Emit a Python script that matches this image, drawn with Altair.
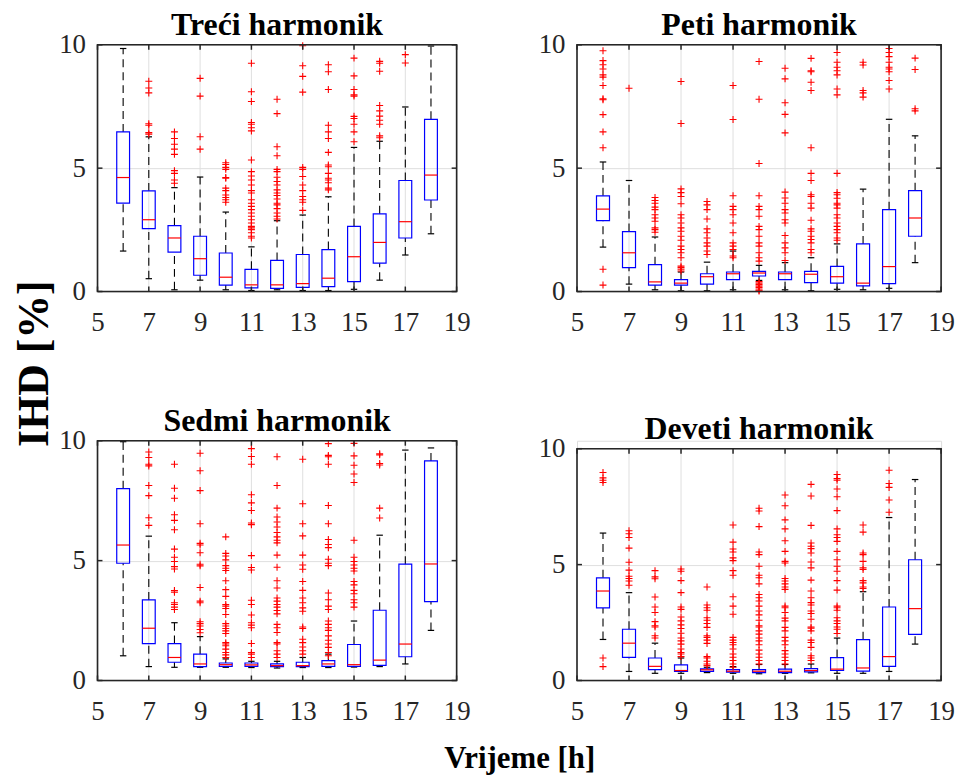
import altair as alt
import pandas as pd

HOURS = list(range(6, 19))
X_TICKS = [5, 7, 9, 11, 13, 15, 17, 19]
Y_TICKS = [0, 5, 10]
X_DOMAIN = [5, 19]
Y_DOMAIN = [0, 10]

TITLES = ["Treći harmonik", "Peti harmonik", "Sedmi harmonik", "Deveti harmonik"]
X_LABEL = "Vrijeme [h]"
Y_LABEL = "IHD [%]"

# ---- Treći harmonik ----
H3_Q1 = [3.58, 2.55, 1.60, 0.66, 0.26, 0.15, 0.13, 0.17, 0.20, 0.40, 1.15, 2.17, 3.71]
H3_MED = [4.62, 2.91, 2.17, 1.33, 0.58, 0.27, 0.27, 0.32, 0.54, 1.41, 1.99, 2.83, 4.72]
H3_Q3 = [6.47, 4.08, 2.67, 2.24, 1.56, 0.90, 1.26, 1.50, 1.70, 2.64, 3.15, 4.50, 6.98]
H3_LO = [1.64, 0.52, 0.07, 0.46, 0.07, 0.04, 0.07, 0.04, 0.04, 0.09, 0.46, 1.48, 2.34]
H3_HI = [9.85, 6.27, 4.21, 4.64, 3.22, 1.81, 2.87, 3.10, 3.84, 5.84, 6.09, 7.48, 9.95]
H3_OUT = [
    [],
    [8.52, 8.25, 8.05, 6.80, 6.74, 6.44, 6.38],
    [6.47, 6.20, 5.97, 5.77, 5.56, 4.90, 4.79, 4.52, 4.39],
    [8.64, 7.92, 6.27, 5.77],
    [5.22, 5.15, 5.03, 4.95, 4.62, 4.59, 4.19, 4.09, 3.91, 3.81, 3.72, 3.62],
    [9.25, 8.10, 7.70, 6.85, 6.78, 6.64, 6.51, 5.33, 4.86, 4.68, 4.52, 4.32, 4.09, 3.99,
     3.72, 3.58, 3.45, 3.32, 3.18, 3.05, 2.91, 2.78, 2.64, 2.58, 2.51, 2.38, 2.24, 2.17],
    [7.79, 7.21, 5.87, 5.50, 4.95, 4.86, 4.63, 4.46, 4.32, 4.12, 3.99, 3.89, 3.75, 3.58,
     3.51, 3.36, 3.18, 3.05, 2.94],
    [9.96, 9.15, 8.72, 8.08, 5.03, 4.95, 4.66, 4.32, 4.09, 3.85, 3.72, 3.62, 3.29],
    [9.19, 8.91, 8.19, 6.74, 6.47, 6.20, 5.64, 5.13, 5.06, 4.79, 4.59, 4.52, 4.41, 4.19, 4.12],
    [9.46, 8.74, 8.19, 7.97, 7.92, 7.10, 7.01, 6.78, 6.47, 6.07],
    [9.33, 9.25, 8.93, 7.54, 7.32, 7.11, 6.94, 6.78, 6.31, 6.23],
    [9.60, 9.26],
    [],
]

# ---- Peti harmonik ----
H5_Q1 = [2.87, 0.97, 0.26, 0.26, 0.30, 0.48, 0.63, 0.48, 0.36, 0.34, 0.23, 0.32, 2.24]
H5_MED = [3.34, 1.57, 0.39, 0.34, 0.60, 0.72, 0.75, 0.72, 0.70, 0.60, 0.34, 1.01, 2.98]
H5_Q3 = [3.88, 2.43, 1.09, 0.48, 0.72, 0.79, 0.82, 0.79, 0.82, 1.02, 1.93, 3.32, 4.09]
H5_LO = [1.80, 0.30, 0.07, 0.03, 0.03, 0.07, 0.45, 0.07, 0.03, 0.09, 0.07, 0.13, 1.17]
H5_HI = [5.25, 4.50, 2.21, 0.79, 1.19, 1.64, 1.06, 1.17, 1.37, 1.93, 4.15, 6.98, 6.31]
H5_OUT = [
    [9.76, 9.36, 9.19, 9.02, 8.78, 8.69, 8.35, 7.81, 7.77, 7.17, 6.47, 5.83, 0.90, 0.26],
    [8.24],
    [3.81, 3.69, 3.58, 3.42, 3.32, 3.11, 2.98, 2.85, 2.58, 2.51, 2.40],
    [8.51, 6.81, 4.16, 4.01, 3.85, 3.56, 3.11, 2.98, 2.78, 2.58, 2.44, 2.24, 2.08, 1.84,
     1.70, 1.57, 1.37, 1.03, 0.97, 0.90, 0.83],
    [3.65, 3.51, 3.32, 2.94, 2.54, 2.38, 2.17, 1.97, 1.84, 1.64, 1.50],
    [8.35, 6.97, 3.88, 3.45, 3.32, 3.11, 2.78, 2.38, 1.97, 1.84, 1.70, 1.44, 1.37],
    [9.32, 7.79, 5.19, 3.88, 3.45, 3.32, 3.05, 2.64, 2.51, 2.24, 1.97, 1.84, 1.57, 1.37,
     1.23, 0.40, 0.34, 0.28, 0.22, 0.16, 0.10, 0.05, 0.02],
    [9.05, 8.62, 7.65, 7.18, 6.43, 4.03, 3.79, 3.58, 3.32, 3.18, 2.91, 2.78, 2.27, 1.97,
     1.77, 1.57, 1.26],
    [9.45, 8.95, 8.91, 8.48, 8.15, 5.83, 4.79, 4.50, 3.92, 3.85, 3.58, 3.38, 2.89, 2.54,
     2.44, 2.24, 2.11, 1.97, 1.70, 1.57],
    [9.69, 9.29, 9.09, 8.95, 8.78, 8.21, 7.97, 4.79, 4.01, 3.92, 3.78, 3.58, 3.51, 3.38,
     3.11, 2.98, 2.78, 2.64, 2.51, 2.38, 2.17, 2.08],
    [9.29, 9.18, 8.15, 8.05, 7.88],
    [9.85, 9.69, 9.52, 9.29, 9.09, 9.02, 8.91, 8.55, 8.21],
    [9.46, 9.00, 7.41, 7.32],
]

# ---- Sedmi harmonik ----
H7_Q1 = [4.89, 1.54, 0.76, 0.58, 0.59, 0.59, 0.58, 0.58, 0.59, 0.59, 0.63, 0.99, 3.29]
H7_MED = [5.65, 2.18, 0.96, 0.69, 0.66, 0.65, 0.62, 0.62, 0.69, 0.66, 0.85, 1.52, 4.86]
H7_Q3 = [8.00, 3.36, 1.54, 1.10, 0.73, 0.73, 0.69, 0.76, 0.83, 1.50, 2.93, 4.85, 9.16]
H7_LO = [1.03, 0.58, 0.55, 0.55, 0.55, 0.54, 0.52, 0.54, 0.54, 0.56, 0.58, 0.69, 2.09]
H7_HI = [9.96, 6.02, 2.41, 1.83, 0.90, 0.80, 0.80, 0.96, 1.10, 2.48, 6.06, 9.61, 9.70]
H7_OUT = [
    [],
    [9.53, 9.30, 9.02, 8.95, 8.13, 7.71, 6.79, 6.47],
    [9.02, 8.02, 7.60, 6.91, 6.68, 6.29, 5.48, 5.14, 4.96, 4.75, 4.65, 3.75, 3.68, 3.24,
     3.17, 3.06, 2.96],
    [9.48, 8.75, 7.92, 6.54, 5.72, 5.65, 5.33, 4.85, 4.78, 3.88, 3.31, 3.24, 2.45, 2.37,
     2.27, 2.13, 1.99],
    [5.99, 5.30, 5.19, 5.03, 4.79, 4.68, 4.59, 4.16, 3.79, 3.51, 3.17, 3.10, 3.00, 2.75,
     2.37, 2.27, 2.17, 2.07, 1.96, 1.58, 1.52, 1.45, 1.31, 1.17, 1.07, 0.96],
    [9.67, 9.34, 9.02, 7.75, 7.41, 7.09, 6.57, 6.50, 5.21, 4.71, 4.61, 3.35, 3.17, 2.73,
     2.41, 2.31, 2.20, 1.54, 1.17, 1.10, 0.96],
    [9.33, 8.13, 7.19, 6.82, 6.61, 6.40, 6.17, 5.99, 5.85, 5.74, 5.23, 4.72, 4.16, 3.86,
     3.44, 3.31, 3.17, 3.06, 2.92, 2.78, 2.34, 2.20, 2.00, 1.58, 1.52, 1.24, 1.10, 0.96],
    [9.23, 7.37, 6.54, 6.03, 5.23, 4.82, 4.64, 4.13, 3.76, 3.44, 3.24, 3.03, 2.89, 2.23,
     2.17, 1.72, 1.58, 1.40, 1.24, 1.10],
    [9.88, 9.39, 9.33, 9.02, 7.30, 6.54, 5.88, 5.67, 5.54, 5.06, 4.89, 4.79, 3.65, 3.37,
     3.10, 2.96, 2.48, 2.34, 2.20, 2.09, 1.86, 1.68, 1.52, 1.38, 1.17, 1.03],
    [9.89, 9.37, 8.98, 8.61, 8.26, 5.85, 5.14, 4.96, 4.82, 4.68, 4.57, 4.13, 3.99, 3.76,
     3.62, 3.37, 3.24, 3.06],
    [9.46, 9.41, 9.05, 8.99, 7.19, 6.78],
    [],
    [],
]

# ---- Deveti harmonik ----
H9_Q1 = [3.13, 1.00, 0.47, 0.39, 0.39, 0.36, 0.34, 0.34, 0.37, 0.43, 0.40, 0.61, 1.99]
H9_MED = [3.86, 1.61, 0.61, 0.43, 0.46, 0.40, 0.40, 0.40, 0.43, 0.49, 0.54, 1.03, 3.10]
H9_Q3 = [4.43, 2.21, 0.97, 0.67, 0.50, 0.47, 0.47, 0.49, 0.51, 0.99, 1.76, 3.17, 5.21]
H9_LO = [1.77, 0.39, 0.31, 0.31, 0.34, 0.31, 0.29, 0.31, 0.33, 0.31, 0.31, 0.39, 1.57]
H9_HI = [6.36, 3.79, 1.61, 0.97, 0.57, 0.60, 0.69, 0.69, 0.71, 1.83, 3.83, 7.03, 8.67]
H9_OUT = [
    [8.97, 8.74, 8.64, 8.54, 0.97, 0.60],
    [6.46, 6.33, 6.17, 5.71, 5.10, 4.76, 4.50, 4.40, 4.29, 4.11],
    [4.74, 4.47, 4.39, 3.60, 3.17, 2.93, 2.54, 2.36, 2.31, 1.93, 1.83],
    [4.81, 4.71, 4.31, 3.79, 3.17, 3.07, 2.74, 2.57, 2.40, 2.24, 2.04, 1.83, 1.71, 1.57,
     1.36, 1.21, 1.14, 1.03],
    [4.03, 3.26, 3.14, 3.03, 2.71, 2.60, 2.46, 2.29, 1.93, 1.86, 1.74, 1.60, 1.03, 0.97,
     0.83, 0.71, 0.64],
    [6.71, 5.97, 5.67, 5.54, 5.29, 5.17, 4.74, 4.54, 3.61, 3.21, 2.86, 1.86, 1.74, 1.64,
     1.54, 1.36, 1.14, 1.00, 0.86, 0.71, 0.57],
    [7.43, 7.31, 6.64, 5.54, 5.43, 4.93, 4.54, 4.43, 4.17, 3.71, 3.57, 3.43, 3.21, 3.00,
     2.83, 2.60, 2.36, 2.31, 2.14, 2.00, 1.83, 1.71, 1.54, 1.31, 1.14, 1.00, 0.86, 0.71],
    [8.00, 7.54, 6.93, 6.54, 6.03, 5.57, 5.14, 5.07, 4.40, 4.29, 4.17, 4.03, 3.93, 3.21,
     3.14, 2.93, 2.69, 2.57, 2.29, 2.14, 1.86, 1.71, 1.54, 1.29, 1.14, 1.00, 0.86, 0.71],
    [8.46, 7.96, 6.69, 5.93, 5.79, 5.69, 5.50, 5.11, 4.86, 4.33, 3.86, 3.57, 3.36, 3.26,
     3.00, 2.89, 2.64, 2.31, 2.26, 2.14, 1.74, 1.64, 1.43, 1.07, 0.97, 0.86],
    [8.89, 8.71, 8.64, 8.26, 7.93, 7.33, 6.54, 6.29, 6.17, 6.00, 5.57, 5.21, 4.93, 4.71,
     4.31, 3.90, 3.21, 3.14, 3.03, 2.71, 2.57, 2.46, 2.31, 2.21, 2.03],
    [6.71, 6.40, 5.50, 5.43, 5.14, 4.86, 4.79, 4.31, 4.21, 4.03, 3.97],
    [9.07, 8.50, 8.33, 7.79, 7.26],
    [],
]

FONT = "Liberation Serif"
INK = "#262626"
GRID = "#dfdfdf"
BLUE = "#0000ff"
RED = "#ff0000"


def panel(title, q1, med, q3, lo, hi, outl, W, H, top=0, xlab=False, ylab=False):
    stats = pd.DataFrame(dict(hour=HOURS, q1=q1, med=med, q3=q3, lo=lo, hi=hi))
    out = pd.DataFrame([(h, v) for h, vs in zip(HOURS, outl) for v in vs],
                       columns=["hour", "v"])
    xt = pd.DataFrame({"t": X_TICKS, "a": Y_DOMAIN[0], "b": Y_DOMAIN[1]})
    yt = pd.DataFrame({"t": Y_TICKS, "a": X_DOMAIN[0], "b": X_DOMAIN[1]})
    frame = pd.DataFrame({"x0": [X_DOMAIN[0]], "x1": [X_DOMAIN[1]],
                          "y0": [Y_DOMAIN[0]], "y1": [Y_DOMAIN[1]]})

    xs = alt.Scale(domain=X_DOMAIN, nice=False, zero=False)
    ys = alt.Scale(domain=Y_DOMAIN, nice=False, zero=False, range=[H, top])

    xkw = dict(values=X_TICKS, grid=False, ticks=False, tickSize=0, domain=False,
               labelFont=FONT, labelFontSize=27, labelColor=INK, labelPadding=18,
               labelFlush=False, format="d")
    ykw = dict(values=Y_TICKS, grid=True, gridColor=GRID, gridWidth=1, ticks=False,
               tickSize=0, domain=False, labelFont=FONT, labelFontSize=27,
               labelColor=INK, labelPadding=12, labelFlush=False, format="d",
               labelBaseline="middle")
    if xlab:
        xkw.update(title=X_LABEL, titleFont=FONT, titleFontSize=31, titleFontWeight="bold",
                   titleColor="black", titleX=424, titleY=87, titleAlign="center",
                   titleBaseline="alphabetic", titleAngle=0)
    else:
        xkw.update(title=None)
    if ylab:
        ykw.update(title=Y_LABEL, titleFont=FONT, titleFontSize=44, titleFontWeight="bold",
                   titleColor="black", titleX=-63, titleY=320, titleAlign="center",
                   titleBaseline="middle", titleAngle=270)
    else:
        ykw.update(title=None)
    xax = alt.Axis(**xkw)
    yax = alt.Axis(**ykw)

    def X(f):
        return alt.X(f, type="quantitative", scale=xs, axis=xax)

    def Y(f):
        return alt.Y(f, type="quantitative", scale=ys, axis=yax)

    base = alt.Chart(stats).transform_calculate(
        xl="datum.hour - 0.25", xr="datum.hour + 0.25",
        cl="datum.hour - 0.125", cr="datum.hour + 0.125")

    xgrid = alt.Chart(xt).mark_rule(color=GRID, strokeWidth=1).encode(
        x=X("t"), y=Y("a"), y2=alt.Y2("b"))
    whisk_hi = base.mark_rule(color="black", strokeWidth=1.1, strokeDash=[8, 5]).encode(
        x=X("hour"), y=Y("q3"), y2=alt.Y2("hi"))
    whisk_lo = base.mark_rule(color="black", strokeWidth=1.1, strokeDash=[8, 5]).encode(
        x=X("hour"), y=Y("lo"), y2=alt.Y2("q1"))
    cap_hi = base.mark_rule(color="black", strokeWidth=1.2).encode(
        x=X("cl"), x2=alt.X2("cr"), y=Y("hi"))
    cap_lo = base.mark_rule(color="black", strokeWidth=1.2).encode(
        x=X("cl"), x2=alt.X2("cr"), y=Y("lo"))
    boxes = base.mark_rect(fillOpacity=0, stroke=BLUE, strokeWidth=1.2).encode(
        x=X("xl"), x2=alt.X2("xr"), y=Y("q1"), y2=alt.Y2("q3"))
    medians = base.mark_rule(color=RED, strokeWidth=1.2).encode(
        x=X("xl"), x2=alt.X2("xr"), y=Y("med"))
    outliers = alt.Chart(out).mark_point(
        shape="M-1,0L1,0M0,-1L0,1", filled=False, color=RED, strokeWidth=1.1,
        size=49, opacity=1).encode(x=X("hour"), y=Y("v"))

    box_frame = alt.Chart(frame).mark_rect(
        fillOpacity=0, stroke=INK, strokeWidth=1.6).encode(
        x=X("x0"), x2=alt.X2("x1"), y=Y("y0"), y2=alt.Y2("y1"))
    tick_b = alt.Chart(xt).mark_rule(color=INK, strokeWidth=1.5, y2Offset=-5).encode(
        x=X("t"), y=Y("a"), y2=alt.Y2("a"))
    tick_t = alt.Chart(xt).mark_rule(color=INK, strokeWidth=1.5, y2Offset=5).encode(
        x=X("t"), y=Y("b"), y2=alt.Y2("b"))
    tick_l = alt.Chart(yt).mark_rule(color=INK, strokeWidth=1.5, x2Offset=5).encode(
        y=Y("t"), x=X("a"), x2=alt.X2("a"))
    tick_r = alt.Chart(yt).mark_rule(color=INK, strokeWidth=1.5, x2Offset=-5).encode(
        y=Y("t"), x=X("b"), x2=alt.X2("b"))

    return alt.layer(
        xgrid, whisk_hi, whisk_lo, cap_hi, cap_lo, boxes, medians, outliers,
        box_frame, tick_b, tick_t, tick_l, tick_r,
    ).properties(
        width=W, height=H,
        title=alt.TitleParams(text=title, font=FONT, fontSize=32, fontWeight="bold",
                              color="black", anchor="middle", frame="group", offset=-36,
                              baseline="alphabetic"),
    )


tl = panel(TITLES[0], H3_Q1, H3_MED, H3_Q3, H3_LO, H3_HI, H3_OUT, 361, 248, ylab=True)
tr = panel(TITLES[1], H5_Q1, H5_MED, H5_Q3, H5_LO, H5_HI, H5_OUT, 366, 248)
bl = panel(TITLES[2], H7_Q1, H7_MED, H7_Q3, H7_LO, H7_HI, H7_OUT, 361, 241, xlab=True)
br = panel(TITLES[3], H9_Q1, H9_MED, H9_Q3, H9_LO, H9_HI, H9_OUT, 366, 241, top=8)

chart = alt.concat(
    tl, tr, bl, br, columns=2, spacing={"row": 150, "column": 121}, bounds="flush"
).properties(
    padding={"left": 12, "top": 6, "right": 5, "bottom": 5},
).configure_view(
    strokeWidth=0
).configure(background="white")

chart.save("out.html", embed_options={"renderer": "svg", "actions": False})
